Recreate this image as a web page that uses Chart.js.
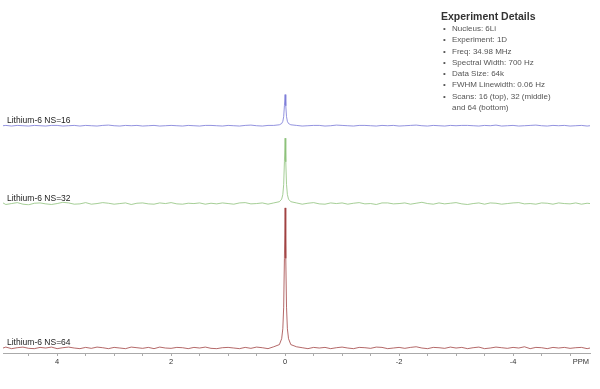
<!DOCTYPE html>
<html>
<head>
<meta charset="utf-8">
<script src="https://cdn.jsdelivr.net/npm/chart.js@4/dist/chart.umd.min.js"></script>
<style>
  html, body { margin: 0; padding: 0; background: #fff; }
  #wrap { position: relative; width: 600px; height: 389px; overflow: hidden; }
  #details { position: absolute; left: 441px; top: 9px; font-family: "Liberation Sans", Arial, sans-serif; color: #555; }
  #details .title { font-weight: bold; font-size: 10.5px; color: #333; line-height: 14px; }
  #details .it { position: relative; padding-left: 11px; font-size: 8px; line-height: 11.3px; }
  #details .it .b { position: absolute; left: 2px; top: 0; }
</style>
</head>
<body>
<div id="wrap">
  <canvas id="c" width="600" height="389"></canvas>
  <div id="details">
    <div class="title">Experiment Details</div>
    <div class="it"><span class="b">•</span>Nucleus: 6Li</div>
    <div class="it"><span class="b">•</span>Experiment: 1D</div>
    <div class="it"><span class="b">•</span>Freq: 34.98 MHz</div>
    <div class="it"><span class="b">•</span>Spectral Width: 700 Hz</div>
    <div class="it"><span class="b">•</span>Data Size: 64k</div>
    <div class="it"><span class="b">•</span>FWHM Linewidth: 0.06 Hz</div>
    <div class="it"><span class="b">•</span>Scans: 16 (top), 32 (middle)<br>and 64 (bottom)</div>
  </div>
</div>
<script>
// Chemical shift (ppm) sample positions
const ppm = [
  4.95,
  4.9, 4.8, 4.7, 4.6, 4.5, 4.4, 4.3, 4.2, 4.1, 4.0,
  3.9, 3.8, 3.7, 3.6, 3.5, 3.4, 3.3, 3.2, 3.1, 3.0,
  2.9, 2.8, 2.7, 2.6, 2.5, 2.4, 2.3, 2.2, 2.1, 2.0,
  1.9, 1.8, 1.7, 1.6, 1.5, 1.4, 1.3, 1.2, 1.1, 1.0,
  0.9, 0.8, 0.7, 0.6, 0.5, 0.4, 0.3, 0.2, 0.1,
  0.06, 0.04, 0.025, 0.012, 0, -0.012, -0.025, -0.04, -0.06,
  -0.1, -0.2, -0.3, -0.4, -0.5, -0.6, -0.7, -0.8, -0.9, -1.0,
  -1.1, -1.2, -1.3, -1.4, -1.5, -1.6, -1.7, -1.8, -1.9, -2.0,
  -2.1, -2.2, -2.3, -2.4, -2.5, -2.6, -2.7, -2.8, -2.9, -3.0,
  -3.1, -3.2, -3.3, -3.4, -3.5, -3.6, -3.7, -3.8, -3.9, -4.0,
  -4.1, -4.2, -4.3, -4.4, -4.5, -4.6, -4.7, -4.8, -4.9, -5.0,
  -5.1, -5.2, -5.3,
  -5.35
];

// Intensities (arbitrary units)
const ns16 = [
  0, 1, -1, 1, 0, -1, 1, 0, -1, 1,
  1, -1, 0, 1, -1, 1, 0, -1, 1, 2,
  0, -1, 1, 0, 1, -1, 0, 1, -1, 0,
  1, 0, -1, 1, 0, -1, 1, 1, 0, -1,
  1, 0, -1, 1, 2, 0, -1, 1, 1, 3,
  7, 14, 29, 64, 100, 64, 29, 14, 7,
  3, 1, -1, 0, 1, 1, -1, 0, 2, 1,
  0, -1, 1, 1, 0, -1, 1, 0, 1, -1,
  0, 1, 2, 0, -1, 1, 0, -1, 1, 0,
  1, 1, 0, -1, 1, 0, 2, -1, 0, 1,
  -1, 0, 1, 2, 0, -1, 1, 0, 1, -1,
  0, 1, -1, 0
];
const ns32 = [
  2, -3, 0, 3, -2, -4, 1, 2, -1, -3,
  0, 4, 2, -2, -1, 3, -2, 0, 3, 1,
  -2, 0, 2, -3, 1, 2, -1, -2, 2, 0,
  3, -1, -2, 1, 0, 2, -2, 1, -1, 2,
  0, -2, 2, 3, -1, 0, 2, -2, 2, 6,
  14, 29, 61, 134, 210, 134, 61, 29, 14,
  6, 2, -2, 1, 3, -1, -2, 2, 0, 2,
  -2, 1, 3, -1, 0, -3, 2, 2, -1, 0,
  2, -2, 1, 4, 0, -2, 2, -1, 1, 3,
  -1, -3, 0, 2, -2, 2, 1, -2, 0, 2,
  3, -1, 0, -2, 2, 1, -2, 2, 0, -1,
  2, -2, 1, 0
];
const ns64 = [
  0, 3, -2, 1, 3, -1, -2, 2, 0, 3,
  -2, 1, 3, 0, -2, 2, -1, 3, 1, -2,
  2, 0, -2, 3, 1, -1, 2, -2, 3, 0,
  -1, 2, 1, -2, 2, 0, 3, -1, -2, 1,
  2, 0, -2, 2, -1, 3, 1, -2, 4, 11,
  30, 62, 131, 288, 450, 288, 131, 62, 30,
  11, 4, 1, -2, 2, 0, 2, -2, 1, 3,
  0, -2, 2, 1, -1, 3, 2, -2, 0, 2,
  -1, 2, 4, 0, -2, 2, 1, -1, 3, 0,
  2, -2, 1, 3, -2, 0, 3, 1, -1, 2,
  0, 4, -2, 2, 1, -2, 2, 0, 2, -1,
  1, 2, -2, 0
];

const seriesLabels = ['Lithium-6 NS=16', 'Lithium-6 NS=32', 'Lithium-6 NS=64'];
const xTickLabels = ['4', '2', '0', '-2', '-4'];
const xUnitLabel = 'PPM';

const toPoints = (ys) => ppm.map((x, i) => ({ x: x, y: ys[i] }));

const FONT = '"Liberation Sans", Arial, Helvetica, sans-serif';
Chart.defaults.font.family = FONT;

const labelPlugin = {
  id: 'labels',
  afterDatasetsDraw(chart) {
    const ctx = chart.ctx;
    const area = chart.chartArea;
    ctx.save();
    ctx.fillStyle = '#222';
    ctx.font = '8.5px ' + FONT;
    ctx.textAlign = 'left';
    ctx.textBaseline = 'alphabetic';
    chart.data.datasets.forEach((ds, i) => {
      const sc = chart.scales[ds.yAxisID];
      const y = sc.getPixelForValue(0);
      ctx.fillText(seriesLabels[i], area.left + 4, y - 3);
    });
    const xs = chart.scales.x;
    ctx.font = '7.5px ' + FONT;
    ctx.fillStyle = '#333';
    ctx.textAlign = 'right';
    ctx.textBaseline = 'top';
    ctx.fillText(xUnitLabel, area.right - 1, xs.top + 5);
    ctx.restore();
  }
};

new Chart(document.getElementById('c'), {
  type: 'line',
  data: {
    datasets: [
      { label: seriesLabels[0], data: toPoints(ns16), yAxisID: 'y16',
        borderColor: 'rgba(120,120,215,0.8)', borderWidth: 1 },
      { label: seriesLabels[1], data: toPoints(ns32), yAxisID: 'y32',
        borderColor: 'rgba(135,190,115,0.75)', borderWidth: 1 },
      { label: seriesLabels[2], data: toPoints(ns64), yAxisID: 'y64',
        borderColor: 'rgba(155,55,55,0.75)', borderWidth: 1 }
    ]
  },
  options: {
    responsive: false,
    animation: false,
    devicePixelRatio: 1,
    elements: { point: { radius: 0 }, line: { tension: 0 } },
    layout: { padding: { top: 84, left: 3, right: 10, bottom: 22 } },
    plugins: { legend: { display: false }, tooltip: { enabled: false } },
    scales: {
      x: {
        type: 'linear',
        reverse: true,
        min: -5.35,
        max: 4.95,
        border: { display: true, color: '#aaa', width: 1 },
        grid: { drawOnChartArea: false, drawTicks: true, tickLength: 3, color: '#aaa' },
        ticks: {
          stepSize: 0.5,
          includeBounds: false,
          autoSkip: false,
          maxRotation: 0,
          padding: 1,
          color: '#333',
          font: { size: 7.5 },
          callback: (v) => {
            const s = String(Math.round(v));
            return (Math.abs(v % 2) < 1e-9 && xTickLabels.includes(s)) ? s : '';
          }
        }
      },
      y16: { type: 'linear', position: 'left', stack: 'spec', stackWeight: 158, weight: 3,
             min: -24, max: 134, display: false },
      y32: { type: 'linear', position: 'left', stack: 'spec', stackWeight: 232, weight: 2,
             min: -6, max: 226, display: false },
      y64: { type: 'linear', position: 'left', stack: 'spec', stackWeight: 474, weight: 1,
             min: -16, max: 458, display: false }
    }
  },
  plugins: [labelPlugin]
});
</script>
</body>
</html>
